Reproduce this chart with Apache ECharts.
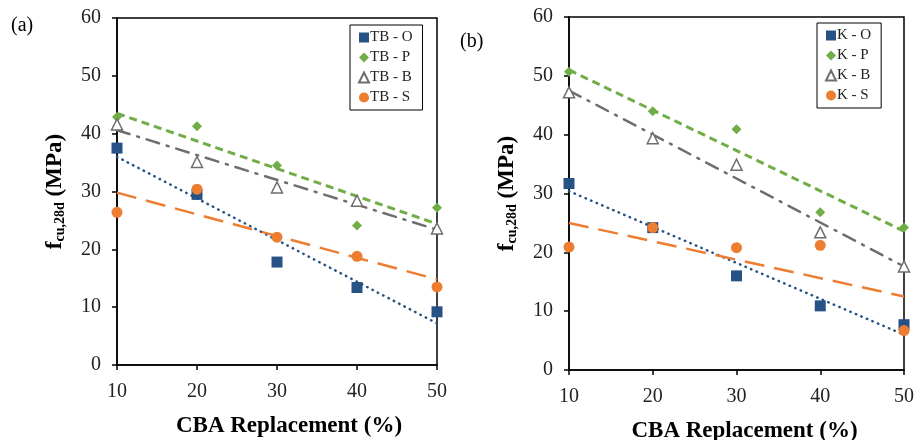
<!DOCTYPE html>
<html><head><meta charset="utf-8">
<script src="https://cdn.jsdelivr.net/npm/echarts@6/dist/echarts.min.js"></script>
<style>html,body{margin:0;padding:0;background:#fff}#c{width:921px;height:440px}</style>
</head><body><div id="c"></div>
<script>
// x categories (CBA replacement %)
const xVals = [10, 20, 30, 40, 50];
const yTicks = [0, 10, 20, 30, 40, 50, 60];
// Panel (a)
const tbO = [37.5, 29.5, 17.8, 13.4, 9.2];
const tbP = [42.9, 41.3, 34.5, 24.1, 27.2];
const tbB = [41.6, 35.1, 30.7, 28.4, 23.6];
const tbS = [26.4, 30.4, 22.1, 18.8, 13.5];
// Panel (b)
const kO = [31.7, 24.2, 16.0, 10.9, 7.7];
const kP = [50.7, 44.0, 40.9, 26.8, 24.2];
const kB = [47.2, 39.4, 34.9, 23.4, 17.6];
const kS = [20.9, 24.2, 20.8, 21.2, 6.7];
// Trend line end values (at x = 10 and x = 50)
const trendX = [10, 50];
const tbOTrend = [36.0, 7.2];
const tbPTrend = [43.5, 24.4];
const tbBTrend = [40.6, 23.4];
const tbSTrend = [29.8, 14.8];
const kOTrend = [30.4, 6.0];
const kPTrend = [51.0, 23.6];
const kBTrend = [47.5, 17.6];
const kSTrend = [25.0, 12.5];
const namesA = ['TB - O', 'TB - P', 'TB - B', 'TB - S'];
const namesB = ['K - O', 'K - P', 'K - B', 'K - S'];

const FONT = '"Liberation Serif","Times New Roman",serif';
const BLUE = '#275286', GREEN = '#70AD47', GRAY = '#6E6E6E', ORANGE = '#ED7D31';

function pts(vals) { return xVals.map((x, i) => [x, vals[i]]); }
function tpts(vals) { return trendX.map((x, i) => [x, vals[i]]); }

function scatters(idx, names, sets) {
  const styles = [
    { symbol: 'rect', symbolSize: 11, itemStyle: { color: BLUE, opacity: 1 } },
    { symbol: 'diamond', symbolSize: 10, itemStyle: { color: GREEN, opacity: 1 } },
    { symbol: 'triangle', symbolSize: 11, itemStyle: { color: '#fff', borderColor: GRAY, borderWidth: 1.5, opacity: 1 } },
    { symbol: 'circle', symbolSize: 11, itemStyle: { color: ORANGE, opacity: 1 } }
  ];
  return sets.map((s, i) => Object.assign({
    type: 'scatter', name: names[i], xAxisIndex: idx, yAxisIndex: idx, data: pts(s), z: 5
  }, styles[i]));
}
function trends(idx, names, sets) {
  const ls = [
    { color: BLUE, width: 2.5, type: [0.5, 5.5], cap: 'round' },
    { color: GREEN, width: 3, type: [8, 5] },
    { color: GRAY, width: 2.5, type: [13, 8, 2, 8], cap: 'round' },
    { color: ORANGE, width: 2.5, type: [20, 10] }
  ];
  return sets.map((s, i) => ({
    type: 'line', name: names[i] + ' trend', xAxisIndex: idx, yAxisIndex: idx,
    data: tpts(s), symbol: 'none', lineStyle: ls[i], z: 3, silent: true
  }));
}

function xAxis(idx, shift) {
  return {
    type: 'value', gridIndex: idx, min: 10, max: 50, interval: 10,
    name: 'CBA Replacement (%)', nameLocation: 'middle', nameGap: 50,
    nameTextStyle: { fontFamily: FONT, fontSize: 23, fontWeight: 'bold', color: '#000', padding: [0, 0, 0, shift] },
    axisLine: { lineStyle: { color: '#000', width: 1.5 } },
    axisTick: { show: true, length: 5, lineStyle: { color: '#000', width: 1.5 } },
    axisLabel: { fontFamily: FONT, fontSize: 20, color: '#222', margin: 17 },
    splitLine: { show: false }
  };
}
function yAxis(idx) {
  return {
    type: 'value', gridIndex: idx, min: 0, max: 60, interval: 10,
    name: '{f|f}{sub|cu,28d}{n| (MPa)}', nameLocation: 'middle', nameGap: 50, nameRotate: 90,
    nameTextStyle: {
      fontFamily: FONT, color: '#000',
      rich: {
        f: { fontFamily: FONT, fontSize: 23, fontWeight: 'bold', color: '#000' },
        sub: { fontFamily: FONT, fontSize: 14, fontWeight: 'bold', color: '#000', padding: [9, 0, 0, 0] },
        n: { fontFamily: FONT, fontSize: 23, fontWeight: 'bold', color: '#000' }
      }
    },
    axisLine: { show: true, lineStyle: { color: '#000', width: 1.5 } },
    axisTick: { show: true, length: 5, lineStyle: { color: '#000', width: 1.5 } },
    axisLabel: { fontFamily: FONT, fontSize: 20, color: '#222', margin: 16,
      formatter: v => yTicks.indexOf(v) >= 0 ? String(v) : '' },
    splitLine: { show: false }
  };
}
function legend(names, left, top) {
  return {
    data: names, orient: 'vertical', left: left, top: top,
    itemWidth: 10, itemHeight: 10, itemGap: 5,
    borderColor: '#000', borderWidth: 1, padding: [5, 10, 5, 8],
    textStyle: { fontFamily: FONT, fontSize: 15, color: '#222', padding: [0, 0, 0, -4] }
  };
}

const chart = echarts.init(document.getElementById('c'), null, { renderer: 'canvas' });
chart.setOption({
  backgroundColor: '#fff',
  animation: false,
  title: [
    { text: '(a)', left: 6, top: 11, textStyle: { fontFamily: FONT, fontSize: 20, fontWeight: 'normal', color: '#000' } },
    { text: '(b)', left: 455, top: 27, textStyle: { fontFamily: FONT, fontSize: 20, fontWeight: 'normal', color: '#000' } }
  ],
  grid: [
    { left: 117, top: 18, width: 320, height: 347, outerBoundsMode: 'none', containLabel: false, show: true, borderColor: '#000', borderWidth: 1.5, backgroundColor: 'transparent' },
    { left: 569, top: 17, width: 335, height: 353, outerBoundsMode: 'none', containLabel: false, show: true, borderColor: '#000', borderWidth: 1.5, backgroundColor: 'transparent' }
  ],
  xAxis: [xAxis(0, 24), xAxis(1, 16)],
  yAxis: [yAxis(0), yAxis(1)],
  legend: [legend(namesA, 350, 25), legend(namesB, 817, 23)],
  series: [].concat(
    trends(0, namesA, [tbOTrend, tbPTrend, tbBTrend, tbSTrend]),
    scatters(0, namesA, [tbO, tbP, tbB, tbS]),
    trends(1, namesB, [kOTrend, kPTrend, kBTrend, kSTrend]),
    scatters(1, namesB, [kO, kP, kB, kS])
  )
});
</script></body></html>
